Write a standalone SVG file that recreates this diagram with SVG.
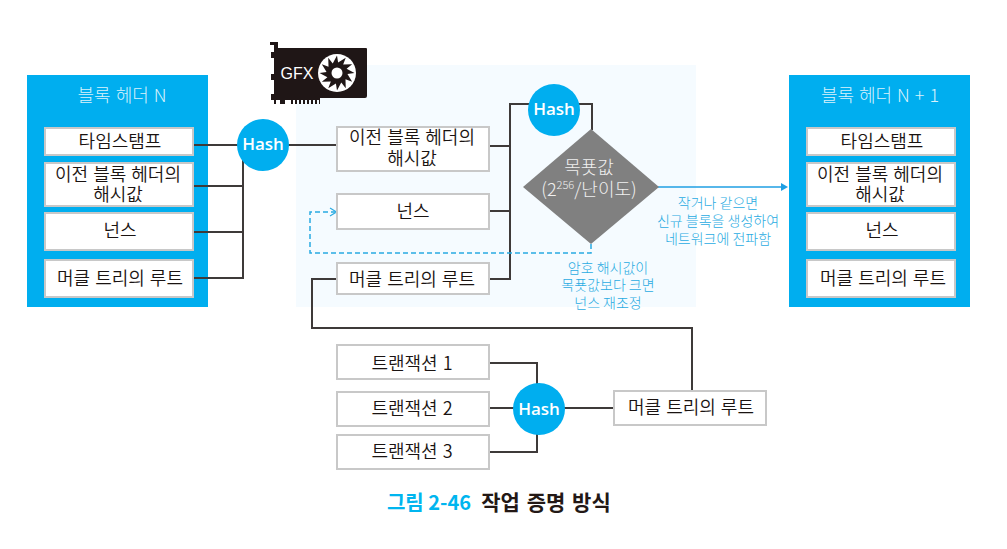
<svg xmlns="http://www.w3.org/2000/svg" width="1007" height="549" viewBox="0 0 1007 549">
<style>
text{font-family:"Noto Sans CJK KR","Noto Sans",sans-serif;text-anchor:middle}
.b{fill:#fff;stroke:#c8c8c8;stroke-width:2}
.t{font-size:18px;fill:#1a1311;font-weight:350;word-spacing:1px}
.h{font-size:18px;fill:#d9f2fc;font-weight:300;word-spacing:1px}
.c{fill:#00aeef}
.hl{font-family:"Open Sans",sans-serif;font-size:17px;font-weight:600;fill:#fff}
.l{fill:none;stroke:#3e3a39;stroke-width:2}
.s{font-size:14px;fill:#29abe2;font-weight:300}
.d{fill:none;stroke:#29abe2;stroke-width:1.5;stroke-dasharray:5 3}
.w{font-size:18px;fill:#f0f0f0;font-weight:300}
</style>
<rect id="bg" x="296" y="65" width="400" height="242" fill="#f5fbff"/>
<g id="header-n">
<rect x="27" y="75" width="181" height="232" class="c"/>
<text x="122" y="102" class="h">블록 헤더 N</text>
<rect class="b" x="45" y="128" width="148" height="27"/><text x="120" y="148" class="t">타임스탬프</text>
<rect class="b" x="45" y="163" width="148" height="43"/><text x="118" y="181" class="t">이전 블록 헤더의</text><text x="118" y="201" class="t">해시값</text>
<rect class="b" x="45" y="213" width="148" height="37"/><text x="120" y="237" class="t">넌스</text>
<rect class="b" x="45" y="260" width="148" height="37"/><text x="120" y="285" class="t">머클 트리의 루트</text>
</g>
<g id="header-n1">
<rect x="789" y="75" width="181" height="232" class="c"/>
<text x="880" y="102" class="h">블록 헤더 N + 1</text>
<rect class="b" x="807" y="128" width="148" height="27"/><text x="882" y="148" class="t">타임스탬프</text>
<rect class="b" x="807" y="163" width="148" height="43"/><text x="880" y="181" class="t">이전 블록 헤더의</text><text x="880" y="201" class="t">해시값</text>
<rect class="b" x="807" y="213" width="148" height="37"/><text x="882" y="237" class="t">넌스</text>
<rect class="b" x="807" y="260" width="148" height="37"/><text x="883" y="285" class="t">머클 트리의 루트</text>
</g>
<g id="connectors">
<path class="l" d="M194 145H336M194 186H243M194 232H243M194 278H243V160"/>
<path class="l" d="M490 146H510M490 211H510M490 279H510V104H592V130"/>
<path class="l" d="M336 279H312V328H692V390"/>
<path class="l" d="M490 363H537V400M490 408H614M490 452H537V420"/>
<path d="M658 187H782" fill="none" stroke="#1f9fe3" stroke-width="1.5"/>
<path d="M781 183L788 187L781 191Z" fill="#1f9fe3"/>
<path class="d" d="M591 244V253H310V212H335"/>
<path d="M330 208L336.500 212L330 216" fill="none" stroke="#29abe2" stroke-width="1.2"/>
</g>
<g id="gfx">
<path fill="#1f1616" d="M270 42H278V48H366Q367 48 367 49V96Q367 98 365 98H320V104H319V100H317V104H315V100H313V104H311V100H309V104H307V100H305V104H303V100H301V104H299V100H297V104H295V100H293V104H291V100H285V104H280V100H276V104H274V100H271V94H274V80H271V74H274V58H271V52H274V45H270Z"/>
<text x="297" y="79" style="font-family:'Liberation Sans',sans-serif;font-size:16px;fill:#fff">GFX</text>
<circle cx="337" cy="73" r="19" fill="#fff"/>
<path fill="#1f1616" d="M354.500 73L347.440 74.100L352.160 81.750L345.490 79.170L345.750 88.160L341.270 82.590L337 90.500L335.900 83.440L328.250 88.160L330.830 81.490L321.840 81.750L327.410 77.270L319.500 73L326.560 71.900L321.840 64.250L328.510 66.830L328.250 57.840L332.730 63.410L337 55.500L338.100 62.560L345.750 57.840L343.170 64.510L352.160 64.250L346.590 68.730Z"/>
<circle cx="337" cy="73" r="5.500" fill="#fff"/>
</g>
<g id="hash-1"><circle class="c" cx="263" cy="145" r="26"/><text class="hl" x="263" y="150">Hash</text></g>
<g id="prev-hash"><rect class="b" x="337" y="127" width="152" height="44"/><text x="412" y="144" class="t">이전 블록 헤더의</text><text x="412" y="165" class="t">해시값</text></g>
<g id="nonce"><rect class="b" x="337" y="194" width="152" height="35"/><text x="413" y="218" class="t">넌스</text></g>
<g id="merkle"><rect class="b" x="337" y="263" width="152" height="31"/><text x="412" y="286" class="t">머클 트리의 루트</text></g>
<g id="hash-2"><circle class="c" cx="554" cy="110" r="26"/><text class="hl" x="554" y="115">Hash</text></g>
<g id="target">
<path d="M591 129L659 187L591 244L523 187Z" fill="#808080"/>
<text x="589" y="174" class="w">목푯값</text>
<text x="589" y="196" class="w">(2<tspan font-size="11" dy="-7">256</tspan><tspan dy="7">/난이도)</tspan></text>
</g>
<g id="label-yes">
<text class="s" x="718" y="208">작거나 같으면</text><text class="s" x="718" y="226">신규 블록을 생성하여</text><text class="s" x="718" y="244">네트워크에 전파함</text>
</g>
<g id="label-no">
<text class="s" x="608" y="273">암호 해시값이</text><text class="s" x="608" y="290">목푯값보다 크면</text><text class="s" x="608" y="308">넌스 재조정</text>
</g>
<g id="tx1"><rect class="b" x="337" y="345" width="152" height="34"/><text x="412" y="370" class="t">트랜잭션 1</text></g>
<g id="tx2"><rect class="b" x="337" y="392" width="152" height="34"/><text x="412" y="415" class="t">트랜잭션 2</text></g>
<g id="tx3"><rect class="b" x="337" y="435" width="152" height="34"/><text x="412" y="458" class="t">트랜잭션 3</text></g>
<g id="hash-3"><circle class="c" cx="539" cy="409" r="26"/><text class="hl" x="539" y="415">Hash</text></g>
<g id="merkle-2"><rect class="b" x="614" y="391" width="152" height="34"/><text x="691" y="414" class="t">머클 트리의 루트</text></g>
<g id="caption">
<text x="429" y="510" style="font-size:20px;font-weight:700;fill:#00b5ef">그림 2-46</text>
<text x="546" y="510" style="font-size:21px;font-weight:700;fill:#231815;word-spacing:2px">작업 증명 방식</text>
</g>
</svg>
